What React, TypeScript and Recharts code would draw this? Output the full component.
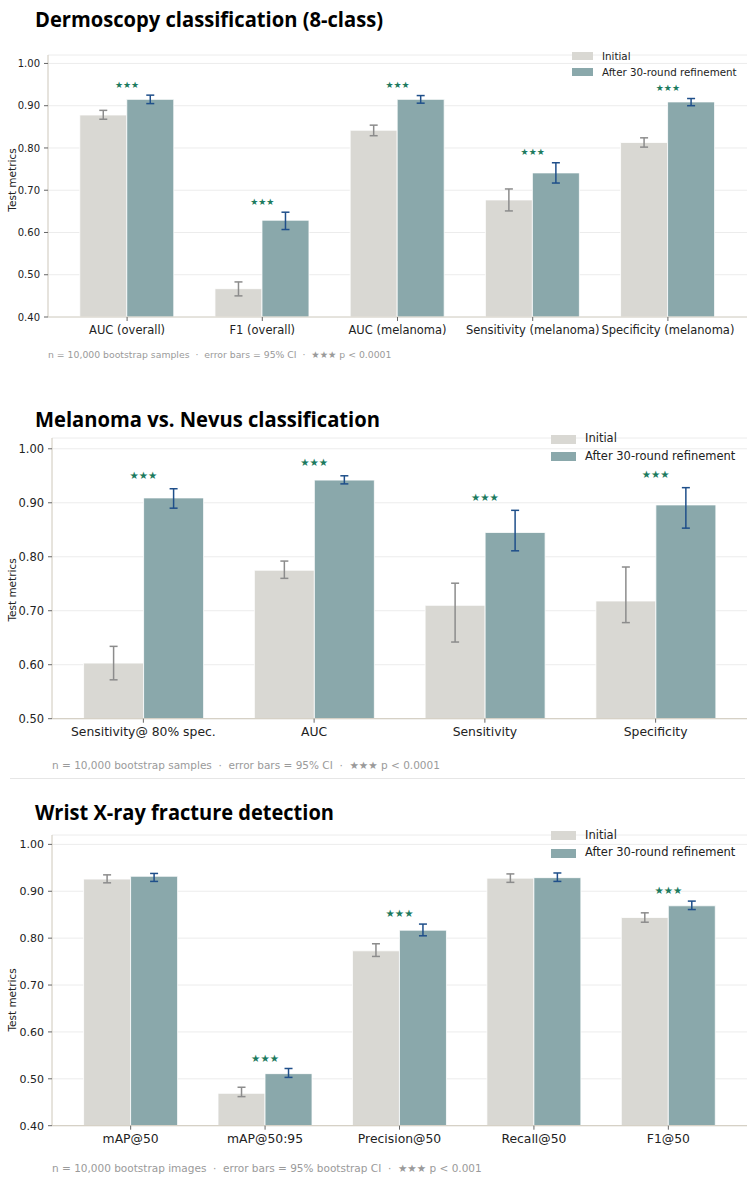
import React from "react";
import { ComposedChart, Bar, Line, XAxis, YAxis, CartesianGrid, ErrorBar, Label } from "recharts";

// Dermoscopy classification (8-class)
const dermCategories = ["AUC (overall)", "F1 (overall)", "AUC (melanoma)", "Sensitivity (melanoma)", "Specificity (melanoma)"];
const dermInitial = [0.878, 0.467, 0.842, 0.677, 0.813];
const dermInitialLow = [0.868, 0.45, 0.829, 0.651, 0.802];
const dermInitialHigh = [0.889, 0.483, 0.854, 0.703, 0.824];
const dermRefined = [0.915, 0.629, 0.915, 0.741, 0.909];
const dermRefinedLow = [0.905, 0.607, 0.906, 0.717, 0.9];
const dermRefinedHigh = [0.925, 0.648, 0.924, 0.765, 0.917];
const dermSignificant = [true, true, true, true, true];
const dermTicks = [0.4, 0.5, 0.6, 0.7, 0.8, 0.9, 1.0];

// Melanoma vs. Nevus
const melCategories = ["Sensitivity@ 80% spec.", "AUC", "Sensitivity", "Specificity"];
const melInitial = [0.603, 0.775, 0.71, 0.718];
const melInitialLow = [0.572, 0.76, 0.642, 0.678];
const melInitialHigh = [0.634, 0.792, 0.751, 0.781];
const melRefined = [0.909, 0.942, 0.845, 0.896];
const melRefinedLow = [0.89, 0.935, 0.811, 0.853];
const melRefinedHigh = [0.926, 0.95, 0.886, 0.928];
const melSignificant = [true, true, true, true];
const melTicks = [0.5, 0.6, 0.7, 0.8, 0.9, 1.0];

// Wrist X-ray fracture detection
const wristCategories = ["mAP@50", "mAP@50:95", "Precision@50", "Recall@50", "F1@50"];
const wristInitial = [0.926, 0.469, 0.773, 0.928, 0.844];
const wristInitialLow = [0.918, 0.462, 0.761, 0.919, 0.834];
const wristInitialHigh = [0.935, 0.482, 0.788, 0.937, 0.854];
const wristRefined = [0.932, 0.511, 0.817, 0.929, 0.869];
const wristRefinedLow = [0.921, 0.503, 0.805, 0.921, 0.861];
const wristRefinedHigh = [0.938, 0.522, 0.83, 0.939, 0.879];
const wristSignificant = [false, true, true, false, true];
const wristTicks = [0.4, 0.5, 0.6, 0.7, 0.8, 0.9, 1.0];

const seriesNames = ["Initial", "After 30-round refinement"];

const INITIAL_FILL = "#d9d8d3";
const REFINED_FILL = "#8aa8ab";
const INITIAL_ERR = "#8c8c8c";
const REFINED_ERR = "#1f4f8a";
const STAR = "#1b7a5e";
const SPINE = "#d6d1c6";
const FONT = "DejaVu Sans";
const PAGE_W = 751;

type PanelProps = {
  categories: string[];
  initial: number[];
  initialLow: number[];
  initialHigh: number[];
  refined: number[];
  refinedLow: number[];
  refinedHigh: number[];
  significant: boolean[];
  ticks: number[];
  domain: [number, number];
  footnote: string;
  plotLeft: number;
  plotRight: number;
  plotTop: number;
  plotBottom: number;
  yLabelY: number;
  yTickSize: number;
  xTickSize: number;
  labelSize: number;
  legendSize: number;
  legendTop: number;
  legendRow: number;
  legendPatchX: number;
  legendPatchW: number;
  legendPatchH: number;
  legendTextX: number;
  starSize: number;
  starGap: number;
  footSize: number;
  footY: number;
};

function MetricPanel(p: PanelProps) {
  const rows = p.categories.map((name, i) => ({
    name,
    initial: p.initial[i],
    refined: p.refined[i],
    initialErr: [p.initial[i] - p.initialLow[i], p.initialHigh[i] - p.initial[i]],
    refinedErr: [p.refined[i] - p.refinedLow[i], p.refinedHigh[i] - p.refined[i]],
    star: p.significant[i] ? Math.max(p.initialHigh[i], p.refinedHigh[i]) + p.starGap : null,
  }));

  const n = p.categories.length;
  const plotW = p.plotRight - p.plotLeft;
  const plotH = p.plotBottom - p.plotTop;
  // matplotlib-style x margins: bars span n - 0.3 units, plus 5% each side
  const band = plotW / ((n - 0.3) * 1.1);
  const pad = (plotW - n * band) / 2;
  const topGap = 10;
  const chartTop = p.plotTop - topGap;
  const xAxisH = 32;

  const renderStar = (d: any) => {
    if (d.payload == null || d.payload.star == null || d.cy == null) return <g key={d.index} />;
    return (
      <text
        key={d.index}
        x={d.cx}
        y={d.cy}
        textAnchor="middle"
        dominantBaseline="central"
        fill={STAR}
        fontSize={p.starSize}
        fontFamily={FONT}
      >
        ★★★
      </text>
    );
  };

  const legendColors = [INITIAL_FILL, REFINED_FILL];

  return (
    <>
      <div style={{ position: "absolute", left: 0, top: chartTop }}>
        <ComposedChart
          width={PAGE_W}
          height={topGap + plotH + xAxisH}
          data={rows}
          margin={{ top: topGap, right: PAGE_W - p.plotRight, left: 0, bottom: 0 }}
          barCategoryGap="15%"
          barGap={0}
        >
          <CartesianGrid vertical={false} stroke="#ececec" strokeWidth={1} />
          <XAxis
            dataKey="name"
            interval={0}
            height={xAxisH}
            padding={{ left: pad, right: pad }}
            tickSize={4}
            tickMargin={5}
            axisLine={{ stroke: SPINE, strokeWidth: 1.2 }}
            tickLine={{ stroke: "#666" }}
            tick={{ fill: "#222", fontSize: p.xTickSize, fontFamily: FONT }}
          />
          <YAxis
            type="number"
            domain={p.domain}
            ticks={p.ticks}
            allowDataOverflow
            width={p.plotLeft}
            tickSize={4}
            tickMargin={4}
            axisLine={{ stroke: SPINE, strokeWidth: 1.2 }}
            tickLine={{ stroke: "#666" }}
            tick={{ fill: "#222", fontSize: p.yTickSize, fontFamily: FONT }}
            tickFormatter={(v: number) => v.toFixed(2)}
          >
            <Label
              content={() => (
                <text
                  x={12}
                  y={p.yLabelY - chartTop}
                  transform={`rotate(-90 12 ${p.yLabelY - chartTop})`}
                  textAnchor="middle"
                  dominantBaseline="central"
                  fill="#222"
                  fontSize={p.labelSize}
                  fontFamily={FONT}
                >
                  Test metrics
                </text>
              )}
            />
          </YAxis>
          <Bar dataKey="initial" fill={INITIAL_FILL} stroke="#ffffff" strokeWidth={0.8} isAnimationActive={false}>
            <ErrorBar dataKey="initialErr" width={4} stroke={INITIAL_ERR} strokeWidth={1.5} />
          </Bar>
          <Bar dataKey="refined" fill={REFINED_FILL} stroke="#ffffff" strokeWidth={0.8} isAnimationActive={false}>
            <ErrorBar dataKey="refinedErr" width={4} stroke={REFINED_ERR} strokeWidth={1.5} />
          </Bar>
          <Line
            dataKey="star"
            stroke="none"
            dot={renderStar}
            activeDot={false}
            legendType="none"
            isAnimationActive={false}
          />
        </ComposedChart>
      </div>

      {seriesNames.map((name, i) => (
        <React.Fragment key={name}>
          <div
            style={{
              position: "absolute",
              left: p.legendPatchX,
              top: p.legendTop + i * p.legendRow - p.legendPatchH / 2,
              width: p.legendPatchW,
              height: p.legendPatchH,
              background: legendColors[i],
            }}
          />
          <div
            style={{
              position: "absolute",
              left: p.legendTextX,
              top: p.legendTop + i * p.legendRow - p.legendSize * 0.6,
              lineHeight: `${p.legendSize * 1.2}px`,
              fontSize: p.legendSize,
              fontFamily: FONT,
              color: "#222",
              whiteSpace: "nowrap",
            }}
          >
            {name}
          </div>
        </React.Fragment>
      ))}

      <div
        style={{
          position: "absolute",
          left: p.plotLeft,
          top: p.footY - p.footSize * 0.6,
          lineHeight: `${p.footSize * 1.2}px`,
          fontSize: p.footSize,
          fontFamily: FONT,
          color: "#9a9a9a",
          whiteSpace: "pre",
        }}
      >
        {p.footnote}
      </div>
    </>
  );
}

export default function App() {
  return (
    <div
      style={{
        position: "absolute",
        left: 0,
        top: 0,
        width: PAGE_W,
        height: 1180,
        background: "#ffffff",
        overflow: "hidden",
      }}
    >
      <svg width={PAGE_W} height={1180} style={{ position: "absolute", left: 0, top: 0 }}>
        <text x={35} y={26.5} fontFamily="Open Sans" fontWeight={700} fontSize={22} fill="#000" textLength={348} lengthAdjust="spacingAndGlyphs">
          Dermoscopy classification (8-class)
        </text>
        <text x={35} y={426.5} fontFamily="Open Sans" fontWeight={700} fontSize={21.5} fill="#000" textLength={345} lengthAdjust="spacingAndGlyphs">
          Melanoma vs. Nevus classification
        </text>
        <text x={35} y={820} fontFamily="Open Sans" fontWeight={700} fontSize={21.5} fill="#000" textLength={299} lengthAdjust="spacingAndGlyphs">
          Wrist X-ray fracture detection
        </text>
        <line x1={10} x2={745} y1={778.5} y2={778.5} stroke="#e6e6e6" strokeWidth={1} />
      </svg>

      <MetricPanel
        categories={dermCategories}
        initial={dermInitial}
        initialLow={dermInitialLow}
        initialHigh={dermInitialHigh}
        refined={dermRefined}
        refinedLow={dermRefinedLow}
        refinedHigh={dermRefinedHigh}
        significant={dermSignificant}
        ticks={dermTicks}
        domain={[0.4, 1.02]}
        footnote={"n = 10,000 bootstrap samples  ·  error bars = 95% CI  ·  ★★★ p < 0.0001"}
        plotLeft={48}
        plotRight={747}
        plotTop={55}
        plotBottom={317}
        yLabelY={180}
        yTickSize={10}
        xTickSize={11.5}
        labelSize={10.5}
        legendSize={10.3}
        legendTop={56}
        legendRow={16}
        legendPatchX={572}
        legendPatchW={21}
        legendPatchH={8}
        legendTextX={602}
        starSize={9}
        starGap={0.025}
        footSize={9.3}
        footY={355}
      />

      <MetricPanel
        categories={melCategories}
        initial={melInitial}
        initialLow={melInitialLow}
        initialHigh={melInitialHigh}
        refined={melRefined}
        refinedLow={melRefinedLow}
        refinedHigh={melRefinedHigh}
        significant={melSignificant}
        ticks={melTicks}
        domain={[0.5, 1.02]}
        footnote={"n = 10,000 bootstrap samples  ·  error bars = 95% CI  ·  ★★★ p < 0.0001"}
        plotLeft={52}
        plotRight={747}
        plotTop={438}
        plotBottom={718.7}
        yLabelY={590}
        yTickSize={11.5}
        xTickSize={12.4}
        labelSize={10.5}
        legendSize={11.5}
        legendTop={439}
        legendRow={17.7}
        legendPatchX={551}
        legendPatchW={24.5}
        legendPatchH={9}
        legendTextX={585}
        starSize={10.4}
        starGap={0.025}
        footSize={10.5}
        footY={765}
      />

      <MetricPanel
        categories={wristCategories}
        initial={wristInitial}
        initialLow={wristInitialLow}
        initialHigh={wristInitialHigh}
        refined={wristRefined}
        refinedLow={wristRefinedLow}
        refinedHigh={wristRefinedHigh}
        significant={wristSignificant}
        ticks={wristTicks}
        domain={[0.4, 1.02]}
        footnote={"n = 10,000 bootstrap images  ·  error bars = 95% bootstrap CI  ·  ★★★ p < 0.001"}
        plotLeft={52}
        plotRight={747}
        plotTop={835}
        plotBottom={1125.7}
        yLabelY={1000}
        yTickSize={11}
        xTickSize={12.4}
        labelSize={10.5}
        legendSize={11.5}
        legendTop={835.7}
        legendRow={17.6}
        legendPatchX={551}
        legendPatchW={24.5}
        legendPatchH={9}
        legendTextX={585}
        starSize={10.4}
        starGap={0.023}
        footSize={10.5}
        footY={1168}
      />
    </div>
  );
}
